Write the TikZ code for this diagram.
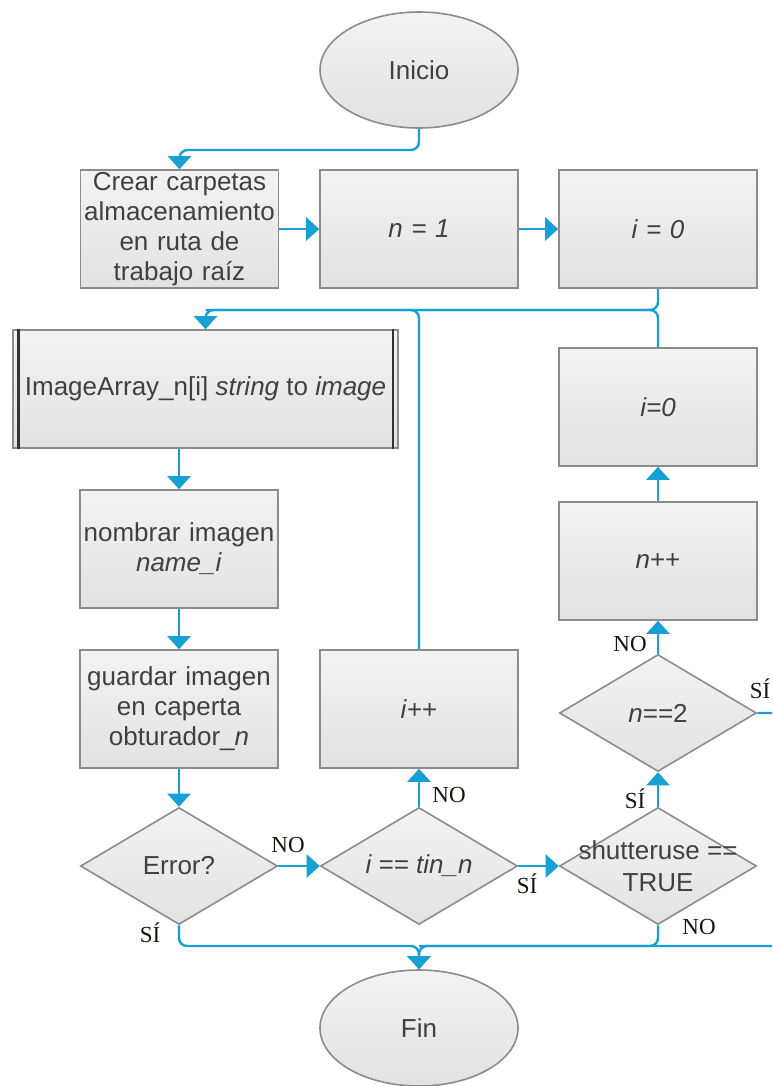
\documentclass[tikz,border=0pt]{standalone}
\usepackage{fontspec}
\setmainfont{Liberation Sans}
\newfontfamily\labfont{Liberation Serif}
\usetikzlibrary{shapes.geometric,arrows.meta}

\definecolor{flowblue}{RGB}{22,160,212}
\definecolor{edgegray}{RGB}{140,140,140}
\definecolor{filltop}{RGB}{243,243,243}
\definecolor{fillbot}{RGB}{226,226,226}
\definecolor{txt}{RGB}{64,64,64}
\definecolor{labtxt}{RGB}{25,20,15}

\tikzset{
  x=0.5pt, y=-0.5pt,
  shapebase/.style={draw=edgegray, line width=0.8pt, top color=filltop, bottom color=fillbot,
    text=txt, font=\fontsize{13}{15}\selectfont, inner sep=0pt, align=center},
  stepbox/.style={shapebase, rectangle, minimum width=99pt, minimum height=59pt, text width=99pt},
  predef/.style={shapebase, rectangle, minimum width=192.5pt, minimum height=59pt},
  term/.style={shapebase, ellipse, minimum width=99pt, minimum height=58pt},
  decide/.style={shapebase, diamond, minimum width=98.5pt, minimum height=58.5pt},
  inner/.style={draw=black!80, line width=1.3pt},
  link/.style={draw=flowblue, line width=1.2pt, rounded corners=4pt},
  flow/.style={link, -{Triangle[length=6.5pt,width=11.5pt]}},
  lab/.style={text=labtxt, font=\labfont\fontsize{11.5}{12}\selectfont, inner sep=0pt},
  dtext/.style={text=txt, font=\fontsize{13}{16}\selectfont, align=center, inner sep=0pt},
}

\begin{document}
\begin{tikzpicture}
\clip (0,0) rectangle (772,1086);
\fill[white] (0,0) rectangle (772,1086);

% row guides for the connectors
\coordinate (h1) at (0,150);
\coordinate (h2) at (0,310);
\coordinate (h3) at (0,946);
\coordinate (offr) at (800,713);

% terminals
\node[term] (ini) at (419,70) {Inicio};
\node[term] (fin) at (419,1028) {Fin};

% setup row
\node[stepbox] (b1) at (179.5,229) {Crear carpetas\\almacenamiento\\en ruta de\\trabajo raíz};
\node[stepbox] (b2) at (419,229) {\textit{n = 1}};
\node[stepbox] (b3) at (658,229) {\textit{i = 0}};

% predefined process
\node[predef] (pre) at (205.5,389) {ImageArray\_n[i] \textit{string} to \textit{image}};
\draw[inner] ([xshift=3pt]pre.north west) -- ([xshift=3pt]pre.south west);
\draw[inner] ([xshift=-3pt]pre.north east) -- ([xshift=-3pt]pre.south east);

% left column
\node[stepbox] (nom) at (179,549) {nombrar imagen\\\textit{name\_i}};
\node[stepbox] (gua) at (179,709) {guardar imagen\\en caperta\\obturador\_\textit{n}};
\node[decide, label={[dtext]center:Error?}] (err) at (179,866) {};

% middle column
\node[stepbox] (ipp) at (419,709) {\textit{i}++};
\node[decide, label={[dtext]center:\textit{i == tin\_n}}] (iq) at (419,866) {};

% right column
\node[stepbox] (iz) at (658,407) {\textit{i=0}};
\node[stepbox] (npp) at (658,561) {\textit{n}++};
\node[decide, label={[dtext]center:\textit{n}==2}] (n2) at (658,713) {};
\node[decide, label={[dtext]center:shutteruse ==\\TRUE}] (sh) at (658,866) {};

% connectors
\draw[flow] (ini.south) -- (ini.south |- h1) -- (b1.north |- h1) -- (b1.north);
\draw[flow] (b1.east) -- (b2.west);
\draw[flow] (b2.east) -- (b3.west);
\draw[flow] (b3.south) -- (b3.south |- h2) -- (pre.north |- h2) -- (pre.north);
\draw[link] (iz.north) -- (iz.north |- h2) -- (ipp.north |- h2);
\draw[link] (ipp.north) -- (ipp.north |- h2) -- (pre.north |- h2);
\draw[flow] (pre.south -| nom.north) -- (nom.north);
\draw[flow] (nom.south) -- (gua.north);
\draw[flow] (gua.south) -- (err.north);
\draw[flow] (err.east) -- (iq.west);
\draw[flow] (iq.north) -- (ipp.south);
\draw[flow] (iq.east) -- (sh.west);
\draw[flow] (sh.north) -- (n2.south);
\draw[flow] (n2.north) -- (npp.south);
\draw[flow] (npp.north) -- (iz.south);
\draw[flow] (err.south) -- (err.south |- h3) -- (fin.north |- h3) -- (fin.north);
\draw[flow] (n2.east) -- (offr) -- (offr |- h3) -- (fin.north |- h3) -- (fin.north);
\draw[link] (sh.south) -- (sh.south |- h3) -- (fin.north |- h3);

% branch labels
\node[lab] (lno1) at (288,845) {NO};
\node[lab] (lsi1) at (150,933) {SÍ};
\node[lab] (lno2) at (449,795) {NO};
\node[lab] (lsi2) at (527,884) {SÍ};
\node[lab] (lsi3) at (635,799) {SÍ};
\node[lab] (lno3) at (630,644) {NO};
\node[lab] (lsi4) at (760,689) {SÍ};
\node[lab] (lno4) at (699,927) {NO};
\end{tikzpicture}
\end{document}
